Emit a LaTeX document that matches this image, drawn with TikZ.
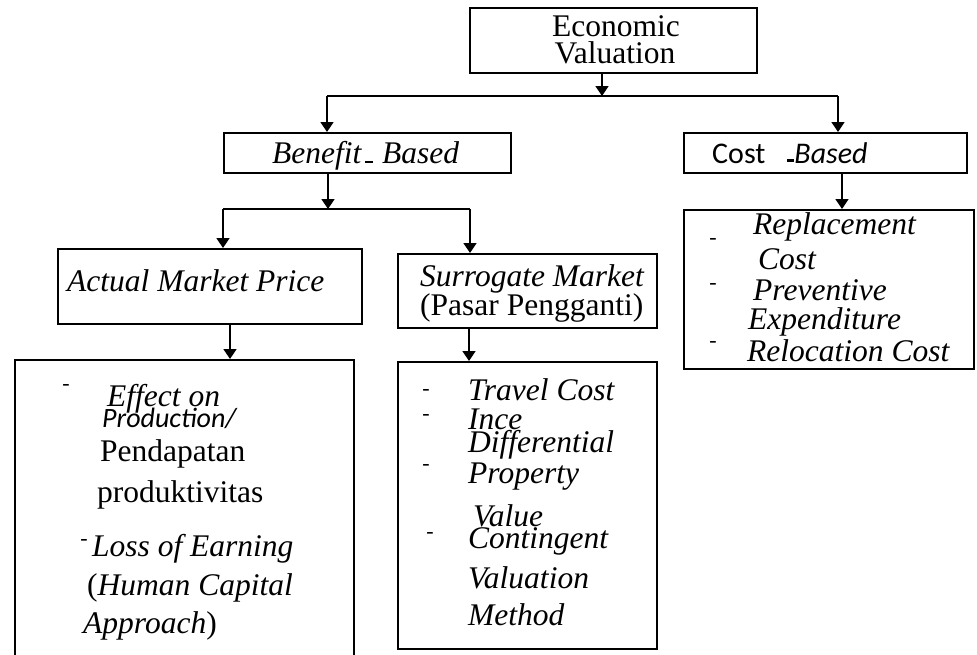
\documentclass[tikz,border=0pt]{standalone}
\usepackage{fontspec}
\setmainfont{Liberation Serif}
\newfontfamily\carlito{Carlito}
\usetikzlibrary{arrows.meta}
\begin{document}
\begin{tikzpicture}[x=1pt,y=-1pt,
  box/.style={draw, line width=1.5pt, inner sep=0pt, anchor=north west},
  conn/.style={line width=1.5pt},
  arr/.style={conn, -{Triangle[width=13pt,length=10pt]}},
  tx/.style={inner sep=0pt, anchor=base west, font=\fontsize{31.5}{31.5}\selectfont},
  tc/.style={tx, anchor=base},
  sx/.style={inner sep=0pt, anchor=base west, font=\carlito\fontsize{28}{28}\selectfont},
  hy/.style={inner sep=0pt, anchor=base, font=\fontsize{22}{22}\selectfont}]
\useasboundingbox (0,0) rectangle (977,654);
\clip (0,0) rectangle (977,654);

% boxes
\node[box, minimum width=287pt, minimum height=65pt]  (econ)      at (469,7)   {};
\node[box, minimum width=287pt, minimum height=40pt]  (benefit)   at (223,132) {};
\node[box, minimum width=283pt, minimum height=40pt]  (cost)      at (683,132) {};
\node[box, minimum width=304pt, minimum height=75pt]  (amp)       at (57,248)  {};
\node[box, minimum width=259pt, minimum height=74pt]  (sur)       at (397,253) {};
\node[box, minimum width=339pt, minimum height=330pt] (effect)    at (14,359)  {};
\node[box, minimum width=259pt, minimum height=287pt] (suritems)  at (397,361) {};
\node[box, minimum width=290pt, minimum height=159pt] (costitems) at (683,209) {};

% connectors
\coordinate (ev) at (602,96);
\coordinate (bl) at (327,96);
\coordinate (cr) at (838,96);
\draw[arr] (econ.south -| ev) -- (ev);
\draw[conn] (bl) -- (cr);
\draw[arr] (bl) -- (benefit.north -| bl);
\draw[arr] (cr) -- (cost.north -| cr);

\coordinate (bv) at (328,209);
\coordinate (al) at (223,209);
\coordinate (sr) at (470,209);
\draw[arr] (benefit.south -| bv) -- (bv);
\draw[conn] (al) -- (sr);
\draw[arr] (al) -- (amp.north -| al);
\draw[arr] (sr) -- (sur.north -| sr);

\coordinate (av) at (230,0);
\coordinate (sv) at (469,0);
\coordinate (cv) at (842,0);
\draw[arr] (amp.south -| av) -- (effect.north -| av);
\draw[arr] (sur.south -| sv) -- (suritems.north -| sv);
\draw[arr] (cost.south -| cv) -- (costitems.north -| cv);

% titles
\node[tc] (econ1) at (616,36) {Economic};
\node[tc] (econ2) at (615,63) {Valuation};
\node[tx] (bentext) at (272,163) {\textit{Benefit}\hspace{3pt}\rule{8pt}{2.5pt}\hspace{9pt}\textit{Based}};
\node[sx, font=\carlito\fontsize{30}{30}\selectfont] (costtext) at (712,163)
  {Cost\hspace{22pt}\rule[1.5pt]{7pt}{2.2pt}\textit{Based}};
\node[tx] (amptext) at (67,291) {\textit{Actual Market Price}};
\node[tx] (sur1) at (420,286) {\textit{Surrogate Market}};
\node[tx] (sur2) at (420,315) {(Pasar Pengganti)};

% cost-based methods
\node[hy] (cd1) at (713,244) {-};
\node[tx] (c1) at (753,234) {\textit{Replacement}};
\node[tx] (c2) at (758,269) {\textit{Cost}};
\node[hy] (cd2) at (713,289) {-};
\node[tx] (c3) at (753,300) {\textit{Preventive}};
\node[tx] (c4) at (748,329) {\textit{Expenditure}};
\node[hy] (cd3) at (713,347) {-};
\node[tx] (c5) at (747,361) {\textit{Relocation Cost}};

% surrogate market methods
\node[hy] (sd1) at (426,395) {-};
\node[tx] (s1) at (468,400) {\textit{Travel Cost}};
\node[hy] (sd2) at (426,420) {-};
\node[tx] (s2) at (468,429) {\textit{Ince}};
\node[tx] (s3) at (468,452) {\textit{Differential}};
\node[hy] (sd3) at (426,470) {-};
\node[tx] (s4) at (468,483) {\textit{Property}};
\node[tx] (s5) at (473,526) {\textit{Value}};
\node[hy] (sd4) at (430,538) {-};
\node[tx] (s6) at (468,548) {\textit{Contingent}};
\node[tx] (s7) at (468,588) {\textit{Valuation}};
\node[tx] (s8) at (468,625) {\textit{Method}};

% actual market price methods
\node[hy] (ed1) at (66,390) {-};
\node[tx] (e1) at (107,406) {\textit{Effect on}};
\node[sx] (e2) at (102,427) {\textit{Production/}};
\node[tx] (e3) at (100,461) {Pendapatan};
\node[tx] (e4) at (97,502) {produktivitas};
\node[hy] (ed2) at (84,545) {-};
\node[tx] (e5) at (92,556) {\textit{Loss of Earning}};
\node[tx] (e6) at (87,595) {(\textit{Human Capital}};
\node[tx] (e7) at (83,633) {\textit{Approach})};
\end{tikzpicture}
\end{document}
